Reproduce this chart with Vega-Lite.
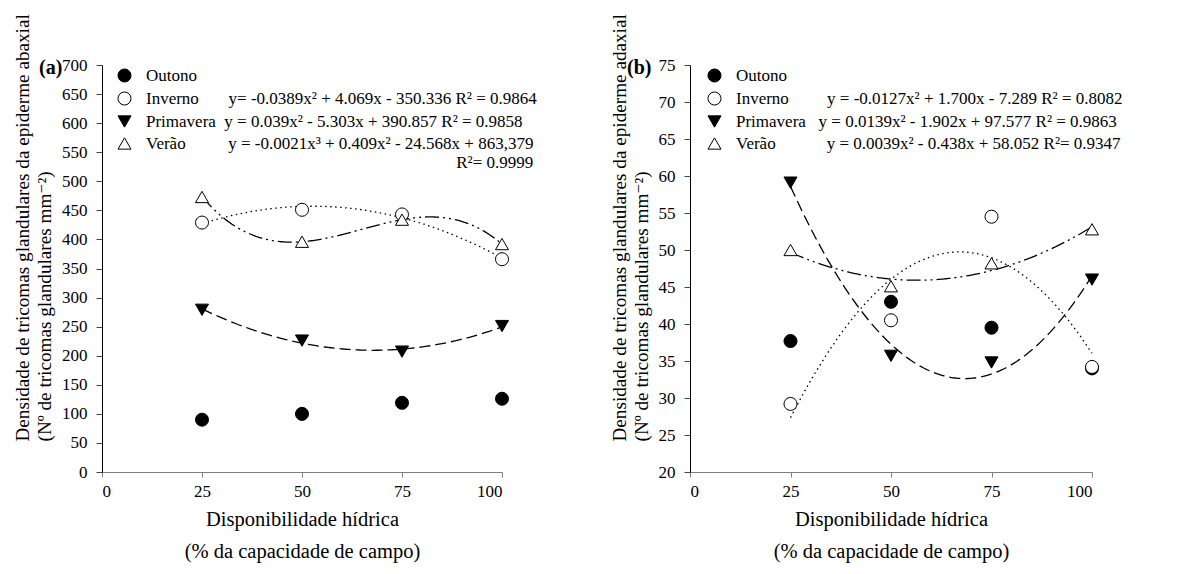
{
  "$schema": "https://vega.github.io/schema/vega-lite/v6.json",
  "background": "white",
  "padding": {"left": 13, "top": 13, "right": 10, "bottom": 8},
  "bounds": "flush",
  "spacing": 188,
  "datasets": {
    "a": [
      {"x": 25, "y": 90, "estacao": "Outono"},
      {"x": 50, "y": 100, "estacao": "Outono"},
      {"x": 75, "y": 119, "estacao": "Outono"},
      {"x": 100, "y": 126, "estacao": "Outono"},
      {"x": 25, "y": 429, "estacao": "Inverno"},
      {"x": 50, "y": 451, "estacao": "Inverno"},
      {"x": 75, "y": 443, "estacao": "Inverno"},
      {"x": 100, "y": 366, "estacao": "Inverno"},
      {"x": 25, "y": 279, "estacao": "Primavera"},
      {"x": 50, "y": 226, "estacao": "Primavera"},
      {"x": 75, "y": 207, "estacao": "Primavera"},
      {"x": 100, "y": 251, "estacao": "Primavera"},
      {"x": 25, "y": 473, "estacao": "Verão"},
      {"x": 50, "y": 396, "estacao": "Verão"},
      {"x": 75, "y": 434, "estacao": "Verão"},
      {"x": 100, "y": 392, "estacao": "Verão"}
    ],
    "b": [
      {"x": 25, "y": 37.7, "estacao": "Outono"},
      {"x": 50, "y": 43.0, "estacao": "Outono"},
      {"x": 75, "y": 39.5, "estacao": "Outono"},
      {"x": 100, "y": 34.0, "estacao": "Outono"},
      {"x": 25, "y": 29.2, "estacao": "Inverno"},
      {"x": 50, "y": 40.5, "estacao": "Inverno"},
      {"x": 75, "y": 54.5, "estacao": "Inverno"},
      {"x": 100, "y": 34.2, "estacao": "Inverno"},
      {"x": 25, "y": 59.1, "estacao": "Primavera"},
      {"x": 50, "y": 35.7, "estacao": "Primavera"},
      {"x": 75, "y": 34.8, "estacao": "Primavera"},
      {"x": 100, "y": 46.0, "estacao": "Primavera"},
      {"x": 25, "y": 50.0, "estacao": "Verão"},
      {"x": 50, "y": 45.1, "estacao": "Verão"},
      {"x": 75, "y": 48.2, "estacao": "Verão"},
      {"x": 100, "y": 52.8, "estacao": "Verão"}
    ]
  },
  "config": {
    "font": "Liberation Serif, Times New Roman, Tinos, DejaVu Serif, serif",
    "view": {"stroke": null},
    "axis": {
      "grid": false,
      "labelFont": "Liberation Serif, Times New Roman, Tinos, DejaVu Serif, serif",
      "labelFontSize": 17,
      "labelColor": "black",
      "titleFont": "Liberation Serif, Times New Roman, Tinos, DejaVu Serif, serif",
      "titleFontWeight": "normal",
      "titleColor": "black"
    },
    "axisX": {
      "domainColor": "#7f7f7f",
      "tickColor": "#7f7f7f",
      "tickSize": 5,
      "labelPadding": 6,
      "titleFontSize": 20.5,
      "titleLineHeight": 32,
      "titlePadding": 10
    },
    "axisY": {
      "domainColor": "black",
      "tickColor": "#444",
      "tickSize": 6,
      "labelPadding": 9,
      "titleFontSize": 19.2,
      "titleLineHeight": 22,
      "titlePadding": 7,
      "titleAlign": "left",
      "titleY": 376
    },
    "legend": {
      "orient": "none",
      "title": null,
      "padding": 0,
      "labelFont": "Liberation Serif, Times New Roman, Tinos, DejaVu Serif, serif",
      "labelFontSize": 17,
      "labelColor": "black",
      "labelLimit": 0,
      "labelOffset": 13,
      "rowPadding": 4,
      "symbolSize": 170,
      "symbolStrokeColor": "black",
      "symbolStrokeWidth": 1,
      "symbolOpacity": 1
    },
    "title": {
      "font": "Liberation Serif, Times New Roman, Tinos, DejaVu Serif, serif",
      "fontSize": 20,
      "fontWeight": "bold",
      "color": "black",
      "anchor": "start",
      "frame": "group",
      "offset": 0
    }
  },
  "resolve": {
    "scale": {"x": "independent", "y": "independent", "shape": "independent", "fill": "independent"},
    "legend": {"shape": "independent", "fill": "independent"}
  },
  "hconcat": [
    {
      "width": 400,
      "height": 407,
      "title": {"text": "(a)", "dx": -63, "dy": 68},
      "data": {"name": "a"},
      "encoding": {
        "x": {"field": "x", "type": "quantitative", "scale": {"domain": [0, 100], "nice": false}, "axis": {"values": [0, 25, 50, 75, 100], "title": ["Disponibilidade hídrica", "(%  da capacidade de campo)"]}},
        "y": {"field": "y", "type": "quantitative", "scale": {"domain": [0, 700], "nice": false}, "axis": {"values": [0, 50, 100, 150, 200, 250, 300, 350, 400, 450, 500, 550, 600, 650, 700], "title": ["Densidade de tricomas glandulares da epiderme abaxial", "(Nº de tricomas glandulares  mm⁻²)"]}}
      },
      "layer": [
        {
          "transform": [{"filter": "datum.estacao === 'Inverno'"}, {"regression": "y", "on": "x", "method": "poly", "order": 2}],
          "mark": {"type": "line", "color": "black", "strokeWidth": 1.3, "strokeDash": [1.5, 3.5]}
        },
        {
          "transform": [{"filter": "datum.estacao === 'Primavera'"}, {"regression": "y", "on": "x", "method": "poly", "order": 2}],
          "mark": {"type": "line", "color": "black", "strokeWidth": 1.3, "strokeDash": [11, 5]}
        },
        {
          "transform": [{"filter": "datum.estacao === 'Verão'"}, {"regression": "y", "on": "x", "method": "poly", "order": 3}],
          "mark": {"type": "line", "color": "black", "strokeWidth": 1.3, "strokeDash": [14, 4, 2, 4, 2, 4]}
        },
        {
          "mark": {"type": "point", "filled": true, "stroke": "black", "strokeWidth": 1, "size": 170, "opacity": 1},
          "encoding": {
            "shape": {"field": "estacao", "type": "nominal", "scale": {"domain": ["Outono", "Inverno", "Primavera", "Verão"], "range": ["circle", "circle", "triangle-down", "triangle-up"]},
              "legend": {"legendX": 14, "legendY": 2, "encode": {"symbols": {"update": {"stroke": {"value": "black"}, "strokeWidth": {"value": 1}}}}, "labelExpr": "datum.label === 'Inverno' ? 'Inverno' + pad('', 7, '\u00a0') + 'y= -0.0389x² + 4.069x - 350.336 R² = 0.9864' : datum.label === 'Primavera' ? 'Primavera' + pad('', 2, '\u00a0') + 'y = 0.039x² - 5.303x + 390.857 R² = 0.9858' : datum.label === 'Verão' ? ['Verão' + pad('', 10, '\u00a0') + 'y = -0.0021x³ + 0.409x² - 24.568x + 863,379', '\u200b' + pad('', 73, '\u00a0') + 'R²= 0.9999'] : datum.label"}},
            "fill": {"field": "estacao", "type": "nominal", "scale": {"domain": ["Outono", "Inverno", "Primavera", "Verão"], "range": ["black", "white", "black", "white"]},
              "legend": {"legendX": 14, "legendY": 2, "encode": {"symbols": {"update": {"stroke": {"value": "black"}, "strokeWidth": {"value": 1}}}}, "labelExpr": "datum.label === 'Inverno' ? 'Inverno' + pad('', 7, '\u00a0') + 'y= -0.0389x² + 4.069x - 350.336 R² = 0.9864' : datum.label === 'Primavera' ? 'Primavera' + pad('', 2, '\u00a0') + 'y = 0.039x² - 5.303x + 390.857 R² = 0.9858' : datum.label === 'Verão' ? ['Verão' + pad('', 10, '\u00a0') + 'y = -0.0021x³ + 0.409x² - 24.568x + 863,379', '\u200b' + pad('', 73, '\u00a0') + 'R²= 0.9999'] : datum.label"}}
          }
        }
      ]
    },
    {
      "width": 402,
      "height": 407,
      "title": {"text": "(b)", "dx": -63, "dy": 68},
      "data": {"name": "b"},
      "encoding": {
        "x": {"field": "x", "type": "quantitative", "scale": {"domain": [0, 100], "nice": false}, "axis": {"values": [0, 25, 50, 75, 100], "title": ["Disponibilidade hídrica", "(%  da capacidade de campo)"]}},
        "y": {"field": "y", "type": "quantitative", "scale": {"domain": [20, 75], "nice": false, "zero": false}, "axis": {"values": [20, 25, 30, 35, 40, 45, 50, 55, 60, 65, 70, 75], "title": ["Densidade de tricomas glandulares da epiderme adaxial", "(Nº de tricomas glandulares  mm⁻²)"]}}
      },
      "layer": [
        {
          "transform": [{"filter": "datum.estacao === 'Inverno'"}, {"regression": "y", "on": "x", "method": "poly", "order": 2}],
          "mark": {"type": "line", "color": "black", "strokeWidth": 1.3, "strokeDash": [1.5, 3.5]}
        },
        {
          "transform": [{"filter": "datum.estacao === 'Primavera'"}, {"regression": "y", "on": "x", "method": "poly", "order": 2}],
          "mark": {"type": "line", "color": "black", "strokeWidth": 1.3, "strokeDash": [11, 5]}
        },
        {
          "transform": [{"filter": "datum.estacao === 'Verão'"}, {"regression": "y", "on": "x", "method": "poly", "order": 2}],
          "mark": {"type": "line", "color": "black", "strokeWidth": 1.3, "strokeDash": [14, 4, 2, 4, 2, 4]}
        },
        {
          "mark": {"type": "point", "filled": true, "stroke": "black", "strokeWidth": 1, "size": 170, "opacity": 1},
          "encoding": {
            "shape": {"field": "estacao", "type": "nominal", "scale": {"domain": ["Outono", "Inverno", "Primavera", "Verão"], "range": ["circle", "circle", "triangle-down", "triangle-up"]},
              "legend": {"legendX": 16, "legendY": 2, "encode": {"symbols": {"update": {"stroke": {"value": "black"}, "strokeWidth": {"value": 1}}}}, "labelExpr": "datum.label === 'Inverno' ? 'Inverno' + pad('', 9, '\u00a0') + 'y = -0.0127x² + 1.700x - 7.289 R² = 0.8082' : datum.label === 'Primavera' ? 'Primavera' + pad('', 3, '\u00a0') + 'y = 0.0139x² - 1.902x + 97.577 R² = 0.9863' : datum.label === 'Verão' ? 'Verão' + pad('', 12, '\u00a0') + 'y = 0.0039x² - 0.438x + 58.052 R²= 0.9347' : datum.label"}},
            "fill": {"field": "estacao", "type": "nominal", "scale": {"domain": ["Outono", "Inverno", "Primavera", "Verão"], "range": ["black", "white", "black", "white"]},
              "legend": {"legendX": 16, "legendY": 2, "encode": {"symbols": {"update": {"stroke": {"value": "black"}, "strokeWidth": {"value": 1}}}}, "labelExpr": "datum.label === 'Inverno' ? 'Inverno' + pad('', 9, '\u00a0') + 'y = -0.0127x² + 1.700x - 7.289 R² = 0.8082' : datum.label === 'Primavera' ? 'Primavera' + pad('', 3, '\u00a0') + 'y = 0.0139x² - 1.902x + 97.577 R² = 0.9863' : datum.label === 'Verão' ? 'Verão' + pad('', 12, '\u00a0') + 'y = 0.0039x² - 0.438x + 58.052 R²= 0.9347' : datum.label"}}
          }
        }
      ]
    }
  ]
}
